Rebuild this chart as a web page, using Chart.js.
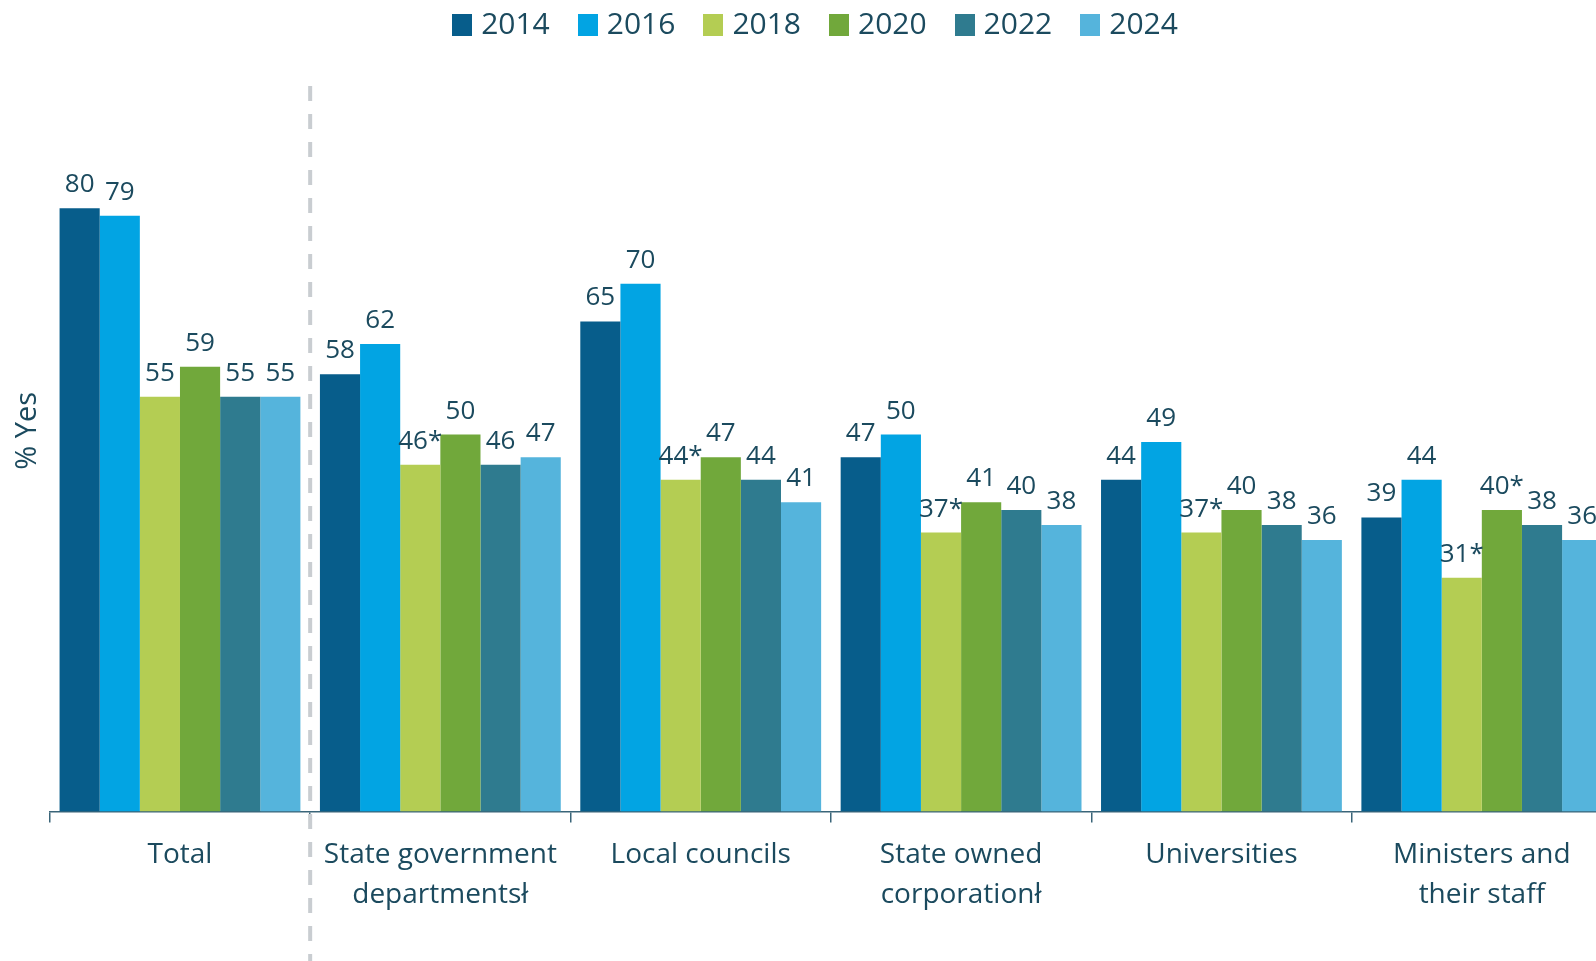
<!DOCTYPE html>
<html>
<head>
<meta charset="utf-8">
<script src="https://cdn.jsdelivr.net/npm/chart.js@4/dist/chart.umd.min.js"></script>
<style>
  html, body { margin: 0; padding: 0; background: #fff; overflow: hidden; }
  #wrap { position: absolute; left: 0; top: -24px; width: 1640px; height: 985px; }
</style>
</head>
<body>
<div id="wrap"><canvas id="chart" width="1640" height="985"></canvas></div>
<script>
// categories and series
const categories = [
    ['Total'],
    ['State government', 'departmentsł'],
    ['Local councils'],
    ['State owned', 'corporationł'],
    ['Universities'],
    ['Ministers and', 'their staff']
];
const years = ['2014', '2016', '2018', '2020', '2022', '2024'];
const values2014 = [80, 58, 65, 47, 44, 39];
const values2016 = [79, 62, 70, 50, 49, 44];
const values2018 = [55, 46, 44, 37, 37, 31];
const values2020 = [59, 50, 47, 41, 40, 40];
const values2022 = [55, 46, 44, 40, 38, 38];
const values2024 = [55, 47, 41, 38, 36, 36];
// significance markers shown after the value
const marks2018 = ['', '*', '*', '*', '*', '*'];
const marks2020 = ['', '', '', '', '', '*'];
const noMarks = ['', '', '', '', '', ''];

const colors = ['#075d8b', '#02a4e3', '#b4cd53', '#71a83b', '#2f7b8f', '#55b4dc'];
const textColor = '#1b4a5e';
const fontFamily = '"Open Sans", "Noto Sans", sans-serif';

const seriesValues = [values2014, values2016, values2018, values2020, values2022, values2024];
const seriesMarks = [noMarks, noMarks, marks2018, marks2020, noMarks, noMarks];

// small coloured squares for the legend
const swatches = colors.map(c => {
    const cv = document.createElement('canvas');
    cv.width = 20;
    cv.height = 22;
    const g = cv.getContext('2d');
    g.fillStyle = c;
    g.fillRect(0, 0, 20, 22);
    return cv;
});

// value labels above each bar
const barLabels = {
    id: 'barLabels',
    afterDatasetsDraw(chart) {
        const ctx = chart.ctx;
        ctx.save();
        ctx.font = '26px ' + fontFamily;
        ctx.fillStyle = textColor;
        ctx.textAlign = 'center';
        ctx.textBaseline = 'alphabetic';
        chart.data.datasets.forEach((ds, i) => {
            const meta = chart.getDatasetMeta(i);
            meta.data.forEach((bar, j) => {
                ctx.fillText(ds.data[j] + seriesMarks[i][j], bar.x, bar.y - 16);
            });
        });
        ctx.restore();
    }
};

// dashed separator after "Total"
const separator = {
    id: 'separator',
    afterDraw(chart) {
        const x = chart.scales.x;
        const px = (x.getPixelForValue(0) + x.getPixelForValue(1)) / 2;
        const ctx = chart.ctx;
        ctx.save();
        ctx.strokeStyle = '#c9cdd1';
        ctx.lineWidth = 4;
        ctx.setLineDash([15, 13]);
        ctx.beginPath();
        ctx.moveTo(px, 110);
        ctx.lineTo(px, chart.height);
        ctx.stroke();
        ctx.restore();
    }
};

new Chart(document.getElementById('chart'), {
    type: 'bar',
    data: {
        labels: categories,
        datasets: years.map((y, i) => ({
            label: y,
            data: seriesValues[i],
            backgroundColor: colors[i],
            borderWidth: 0,
            categoryPercentage: 0.925,
            barPercentage: 1
        }))
    },
    options: {
        responsive: false,
        animation: false,
        layout: { padding: { left: 24, right: 28, top: 0, bottom: 33 } },
        plugins: {
            legend: {
                position: 'top',
                labels: {
                    usePointStyle: true,
                    pointStyleWidth: 8,
                    boxHeight: 22,
                    padding: 34,
                    color: textColor,
                    font: { size: 30, family: fontFamily },
                    generateLabels(chart) {
                        const items = Chart.defaults.plugins.legend.labels.generateLabels(chart);
                        items.forEach((it, i) => { it.pointStyle = swatches[i]; });
                        return items;
                    }
                }
            },
            tooltip: { enabled: false }
        },
        scales: {
            x: {
                grid: {
                    display: true,
                    drawOnChartArea: false,
                    drawTicks: true,
                    tickLength: 11,
                    offset: true,
                    color: '#3a6579',
                    lineWidth: 1.5
                },
                border: { display: true, color: '#3a6579', width: 1.5 },
                ticks: {
                    color: textColor,
                    font: { size: 28, family: fontFamily, lineHeight: 1.42 },
                    padding: 13,
                    maxRotation: 0,
                    autoSkip: false
                }
            },
            y: {
                min: 0,
                max: 101,
                grid: { display: false, drawTicks: false },
                border: { display: false },
                ticks: { display: false },
                title: {
                    display: true,
                    text: '% Yes',
                    color: textColor,
                    font: { size: 29, family: fontFamily },
                    padding: { top: -14, bottom: 5 }
                }
            }
        }
    },
    plugins: [barLabels, separator]
});
</script>
</body>
</html>
